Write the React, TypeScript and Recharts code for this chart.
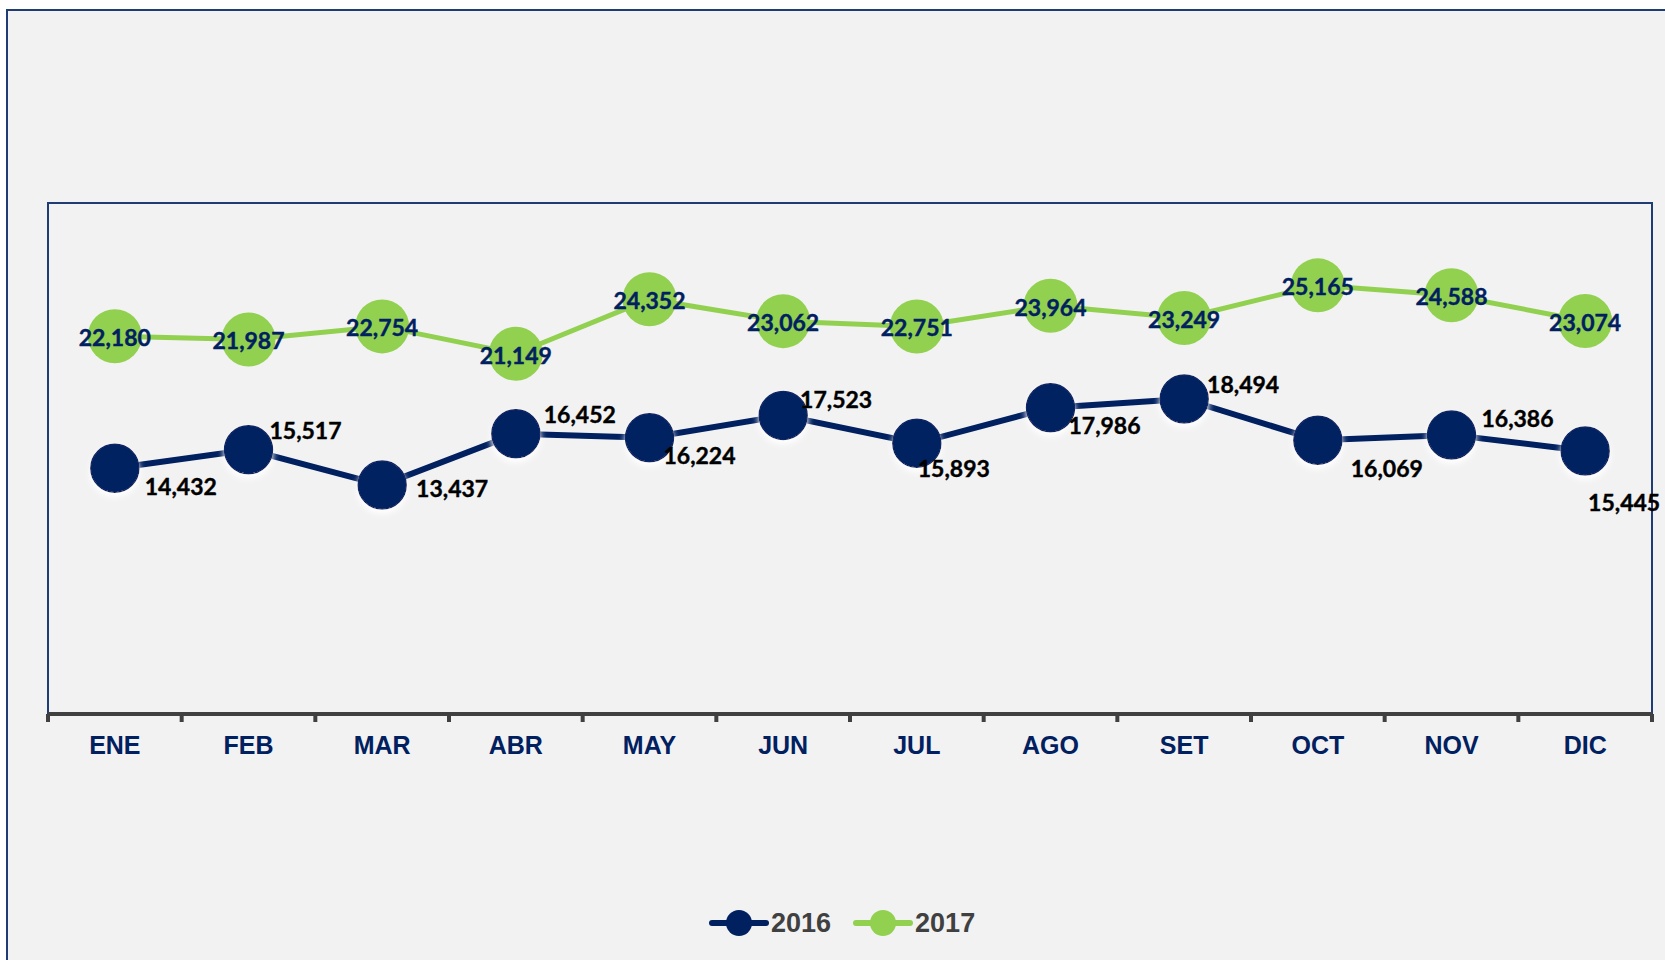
import React from 'react';
import { LineChart, Line, XAxis, YAxis, ReferenceArea, Legend } from 'recharts';

const MONTHS = ['ENE', 'FEB', 'MAR', 'ABR', 'MAY', 'JUN', 'JUL', 'AGO', 'SET', 'OCT', 'NOV', 'DIC'];
const SERIES_2016 = [14432, 15517, 13437, 16452, 16224, 17523, 15893, 17986, 18494, 16069, 16386, 15445];
const SERIES_2017 = [22180, 21987, 22754, 21149, 24352, 23062, 22751, 23964, 23249, 25165, 24588, 23074];
const X_TICKS = [0, 1, 2, 3, 4, 5, 6, 7, 8, 9, 10, 11, 12];
const Y_DOMAIN = [0, 30000];

// label placement (offset from the point) for the 2016 series
const LABEL_OFFSETS_2016 = [
  [66, 18], [57, -20], [70, 3], [64, -20], [50, 17], [53, -17],
  [37, 25], [54, 17], [59, -15], [69, 28], [66, -17], [39, 51],
];

const NAVY = '#002060';
const GREEN = '#92D050';
const FRAME = '#1F3C76';

const W = 1665;
const H = 960;
const MARGIN = { top: 203, right: 13, left: 48, bottom: 186 };
const PLOT_W = W - MARGIN.left - MARGIN.right;
const BAND = PLOT_W / MONTHS.length;

const data = MONTHS.map((m, i) => ({
  x: i + 0.5,
  month: m,
  y2016: SERIES_2016[i],
  y2017: SERIES_2017[i],
}));

const fmt = (v: number) => v.toLocaleString('en-US');

const MonthTick = (props: any) => {
  const { x, y, payload } = props;
  const i = payload.value;
  if (i >= MONTHS.length) return <g />;
  return (
    <text
      x={x + BAND / 2}
      y={y + 21}
      textAnchor="middle"
      dominantBaseline="central"
      fill={NAVY}
      fontFamily="'Liberation Sans', Arial, sans-serif"
      fontWeight="bold"
      fontSize={25}
    >
      {MONTHS[i]}
    </text>
  );
};

const Dot2016 = (p: any) => (
  <circle key={`d16-${p.index}`} cx={p.cx} cy={p.cy} r={24} fill={NAVY} stroke="#0B2768" strokeWidth={1.5} filter="url(#whiteGlow)" />
);
const Dot2017 = (p: any) => (
  <circle key={`d17-${p.index}`} cx={p.cx} cy={p.cy} r={27} fill={GREEN} stroke="none" />
);

const Label2016 = (p: any) => {
  const off = LABEL_OFFSETS_2016[p.index] || [50, 20];
  return (
    <text
      key={`l16-${p.index}`}
      x={p.x + off[0]}
      y={p.y + off[1]}
      textAnchor="middle"
      dominantBaseline="central"
      fill="#000"
      stroke="#000"
      strokeWidth={0.4}
      fontFamily="Lato, 'Open Sans', sans-serif"
      fontWeight="bold"
      fontSize={23}
    >
      {fmt(p.value)}
    </text>
  );
};

const Label2017 = (p: any) => (
  <text
    key={`l17-${p.index}`}
    x={p.x}
    y={p.y + 1}
    textAnchor="middle"
    dominantBaseline="central"
    fill={NAVY}
    stroke={NAVY}
    strokeWidth={0.4}
    fontFamily="Lato, 'Open Sans', sans-serif"
    fontWeight="bold"
    fontSize={23}
  >
    {fmt(p.value)}
  </text>
);

const LegendContent = () => {
  const items = [
    { name: '2016', color: NAVY },
    { name: '2017', color: GREEN },
  ];
  return (
    <div style={{ display: 'flex', alignItems: 'center' }}>
      {items.map((it) => (
        <div key={it.name} style={{ display: 'flex', alignItems: 'center', marginRight: 22 }}>
          <svg width={60} height={30}>
            <line x1={3} y1={15} x2={57} y2={15} stroke={it.color} strokeWidth={6} strokeLinecap="round" />
            <circle cx={30} cy={15} r={13} fill={it.color} />
          </svg>
          <span
            style={{
              fontFamily: "'Liberation Sans', Arial, sans-serif",
              fontWeight: 'bold',
              fontSize: 27,
              color: '#404040',
              lineHeight: '30px',
              marginLeft: 2,
            }}
          >
            {it.name}
          </span>
        </div>
      ))}
    </div>
  );
};

export default function App() {
  return (
    <div style={{ position: 'absolute', left: 0, top: 0, width: W, height: H, background: '#fff', overflow: 'hidden' }}>
      <div
        style={{
          position: 'absolute',
          left: 6,
          top: 9,
          width: 1720,
          height: 1020,
          border: `2px solid ${FRAME}`,
          background: '#F2F2F2',
        }}
      />
      <div style={{ position: 'absolute', left: 0, top: 0 }}>
        <LineChart width={W} height={H} data={data} margin={MARGIN}>
          <defs>
            <filter id="whiteGlow" x="-60%" y="-60%" width="220%" height="220%">
              <feDropShadow dx={0} dy={4} stdDeviation={3} floodColor="#ffffff" floodOpacity={1} />
            </filter>
          </defs>
          <YAxis hide domain={Y_DOMAIN} type="number" />
          <ReferenceArea y1={Y_DOMAIN[0]} y2={Y_DOMAIN[1]} fill="none" stroke={FRAME} strokeWidth={2} ifOverflow="visible" />
          <XAxis
            dataKey="x"
            type="number"
            domain={[0, 12]}
            ticks={X_TICKS}
            interval={0}
            height={60}
            axisLine={{ stroke: '#404040', strokeWidth: 4 }}
            tickLine={{ stroke: '#404040', strokeWidth: 4 }}
            tickSize={8}
            tick={<MonthTick />}
          />
          <Line
            dataKey="y2016"
            name="2016"
            stroke={NAVY}
            strokeWidth={6}
            dot={Dot2016}
            activeDot={false}
            label={Label2016}
            isAnimationActive={false}
          />
          <Line
            dataKey="y2017"
            name="2017"
            stroke={GREEN}
            strokeWidth={5}
            dot={Dot2017}
            activeDot={false}
            label={Label2017}
            isAnimationActive={false}
          />
          <Legend
            verticalAlign="middle"
            layout="horizontal"
            content={<LegendContent />}
            wrapperStyle={{ position: 'absolute', top: 908, left: 709, width: 400, height: 30 }}
          />
        </LineChart>
      </div>
    </div>
  );
}
